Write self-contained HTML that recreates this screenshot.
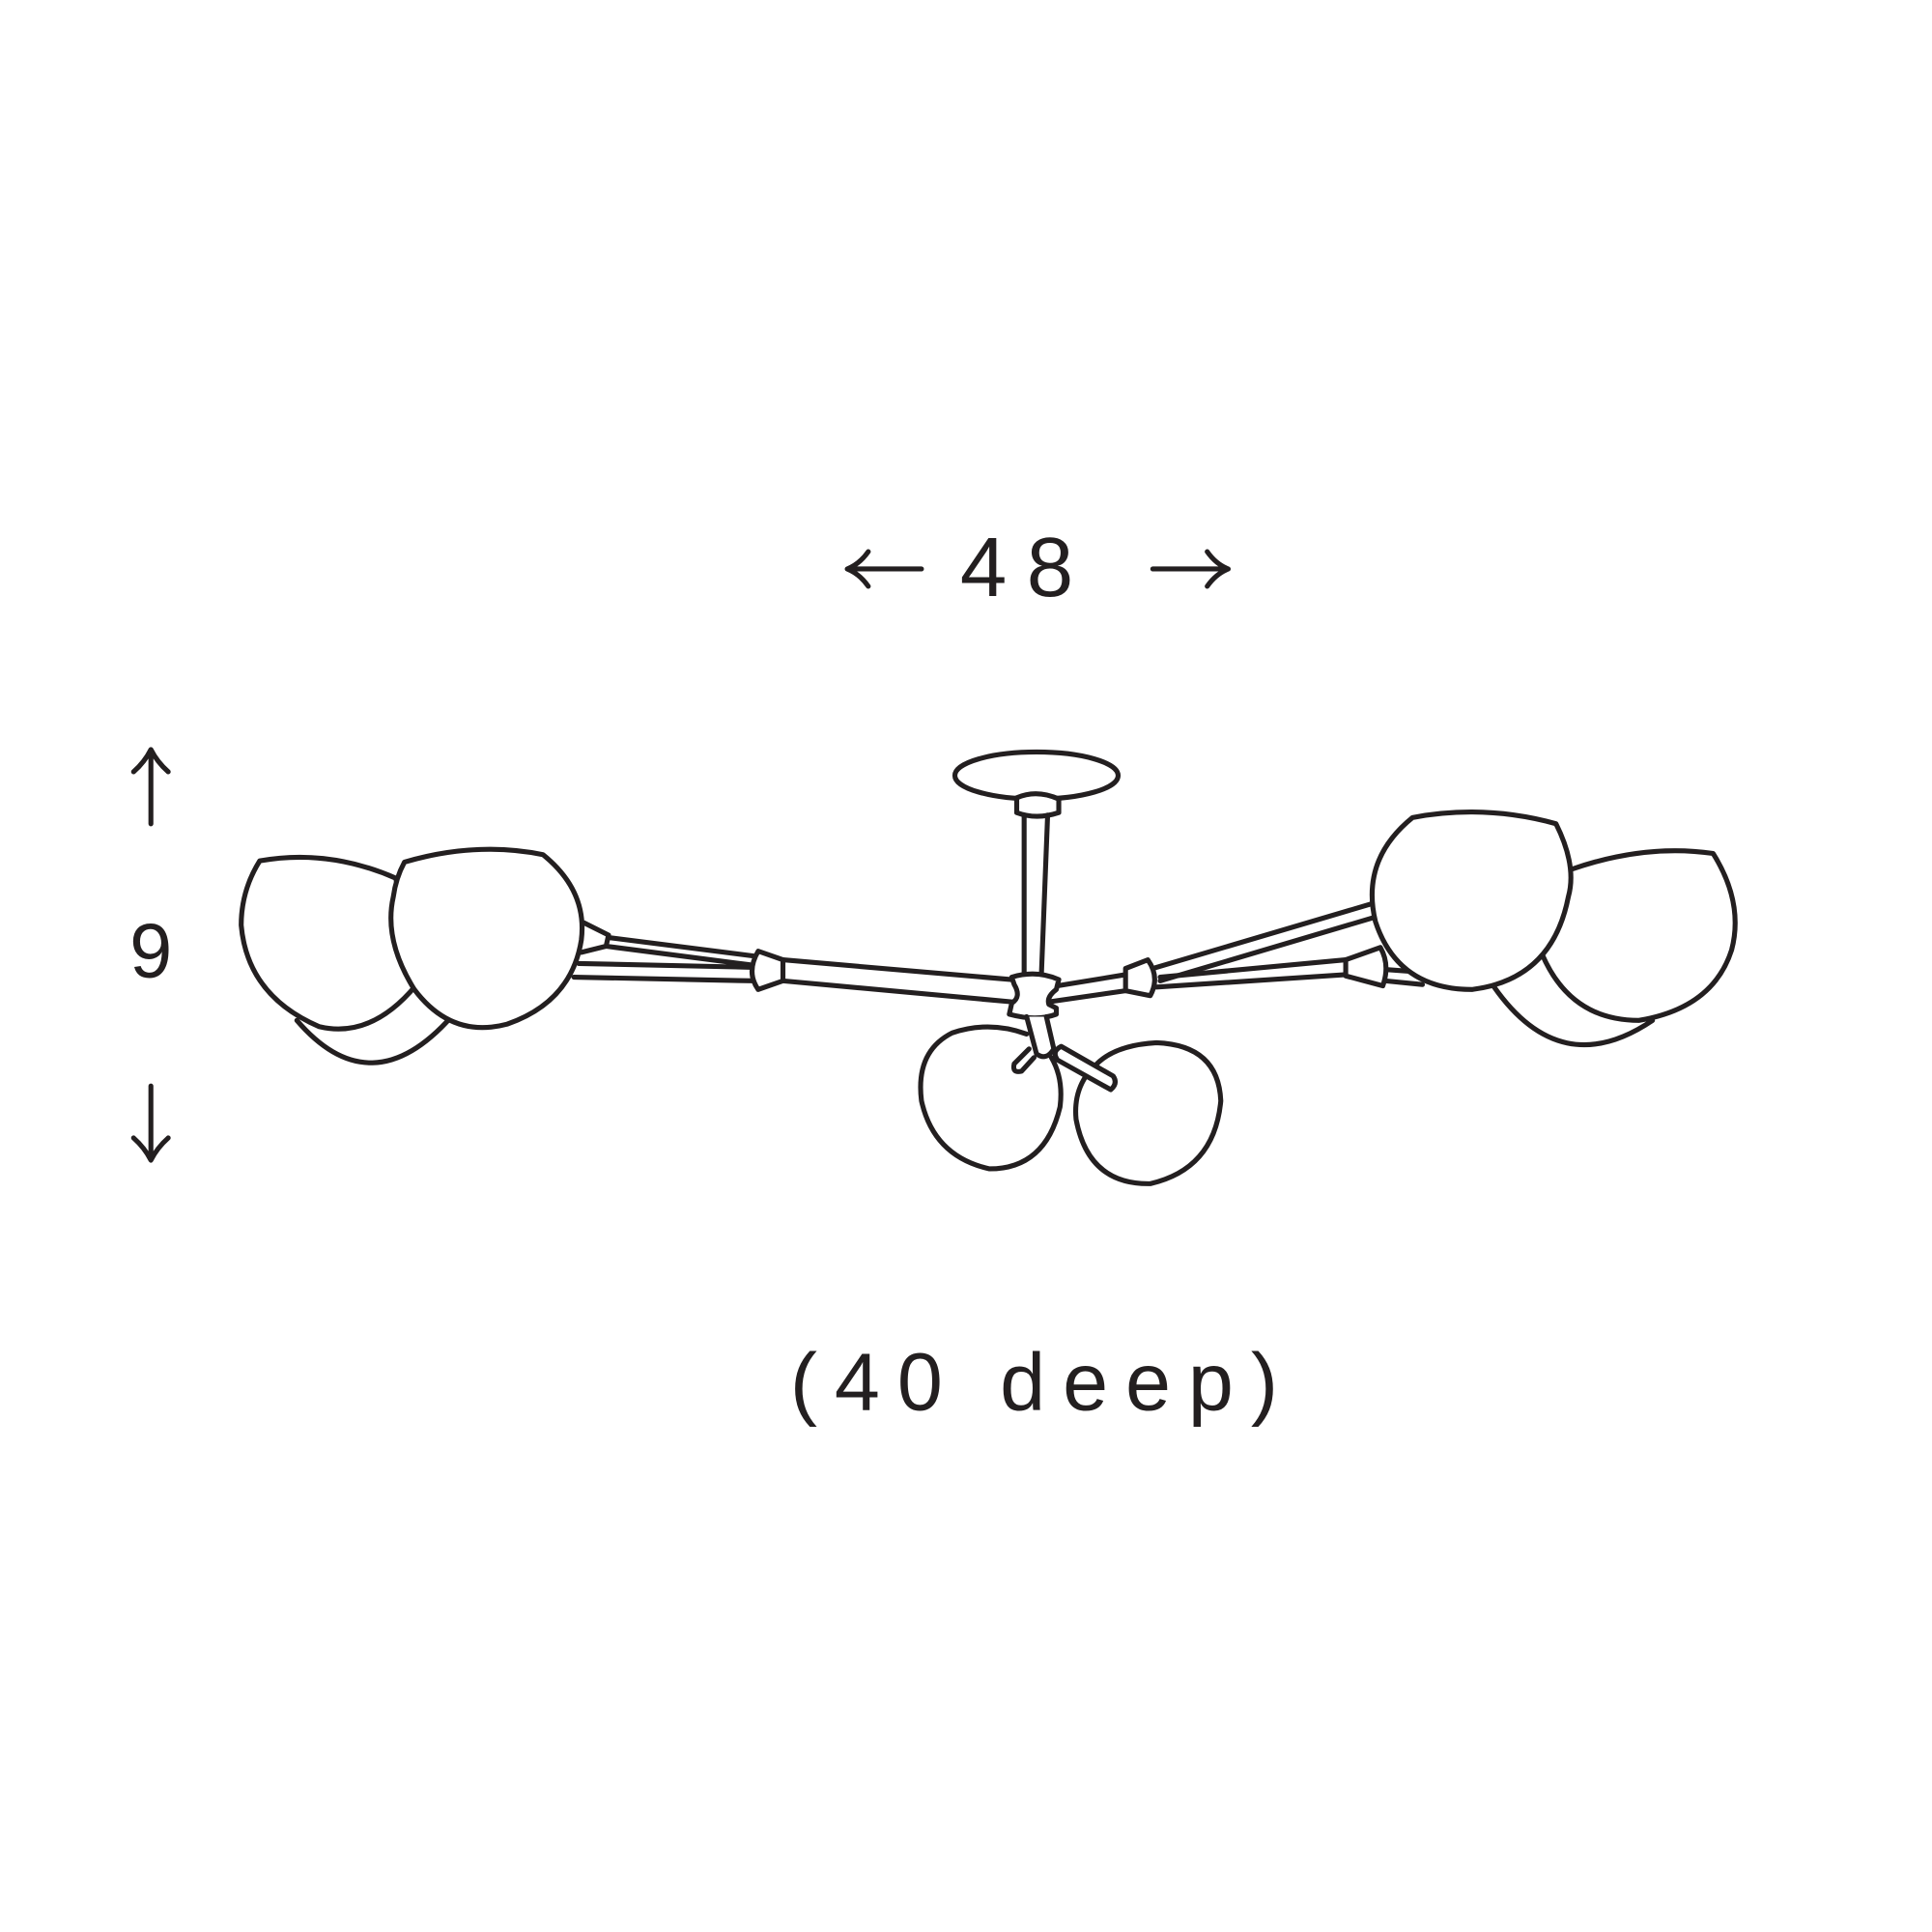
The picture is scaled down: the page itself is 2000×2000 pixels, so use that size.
<!DOCTYPE html>
<html><head><meta charset="utf-8"><style>
html,body{margin:0;padding:0;background:#fff;}
svg{display:block;}
</style></head><body>
<svg width="2000" height="2000" viewBox="0 0 1562 1562" xmlns="http://www.w3.org/2000/svg">
<g fill="none" stroke="#231f20" stroke-width="4" stroke-linejoin="round" stroke-linecap="round">
<!-- dimension arrows -->
<path d="M690,460 H745 M702,446 Q695,456 685,460 Q695,464 702,474"/>
<path d="M932,460 H990 M976,446 Q983,456 993,460 Q983,464 976,474"/>
<path d="M122,612 V666 M108,624 Q117,616 122,606 Q127,616 136,624"/>
<path d="M122,878 V934 M108,920 Q117,928 122,938 Q127,928 136,920"/>

<!-- back globes -->
<path d="M240,825 Q300,895 365,822" />
<path d="M1208,798 Q1262,875 1336,825" />

<!-- left arms -->
<path d="M472,746 L492,756 L490,765 L470,770"/>
<path d="M492,758 L610,773 M490,765 L606,780 M468,779 L606,782 M464,790 L608,793"/>
<path d="M613,769 L633,776 L633,793 L613,800 Q603,786 613,769 Z" fill="#fff"/>
<path d="M633,776 L818,792 M633,793 L818,810"/>

<!-- left globes -->
<path d="M210,696 Q265,686 320,710 L336,797 Q300,840 258,830 Q200,805 195,748 Q195,720 210,696 Z" fill="#fff"/>
<path d="M327,697 Q385,680 439,691 Q475,720 470,760 Q462,810 410,828 Q365,840 335,800 Q310,760 318,725 Q320,710 327,697 Z" fill="#fff"/>

<!-- canopy & stem -->
<ellipse cx="838" cy="627" rx="66" ry="19" fill="#fff"/>
<path d="M822,645 Q838,638 856,646 L856,657 Q838,663 822,657 Z" fill="#fff"/>
<path d="M828,659 V787 M847,659 L842,787"/>

<!-- right arms -->
<path d="M855,797 L910,788 M848,810 L910,801"/>
<path d="M910,783 L928,776 Q938,790 930,805 L910,801 Z" fill="#fff"/>
<path d="M932,783 L1108,731 M938,793 L1110,742"/>
<path d="M938,790 L1088,776 M935,798 L1088,788"/>
<path d="M1088,776 L1116,766 Q1124,780 1118,797 L1088,789 Z" fill="#fff"/>
<path d="M1122,784 L1150,786 M1120,793 L1150,796"/>

<!-- right globes -->
<path d="M1270,703 Q1330,682 1385,690 Q1410,730 1400,768 Q1385,815 1325,825 Q1270,825 1247,772 Z" fill="#fff"/>
<path d="M1142,661 Q1200,650 1258,666 Q1275,700 1268,725 Q1255,792 1190,800 Q1130,800 1112,745 Q1100,695 1142,661 Z" fill="#fff"/>

<!-- hub -->
<path d="M818,790 Q838,784 856,792 L854,800 Q846,806 848,812 L854,815 L854,820 Q838,826 816,820 L818,811 Q826,806 820,796 Z" fill="#fff"/>

<!-- bottom globes -->
<path d="M830,836 Q800,825 770,835 Q740,850 745,890 Q755,935 800,945 Q845,945 857,895 Q860,872 850,855" fill="#fff"/>
<path d="M885,862 Q900,845 935,843 Q985,845 987,890 Q982,945 930,957 Q880,958 870,905 Q868,885 878,870" fill="#fff"/>

<!-- lower fittings -->
<path d="M830,822 L838,852 Q846,858 852,848 L846,822" fill="#fff"/>
<path d="M832,848 L820,860 Q818,868 826,866 L836,855"/>
<path d="M858,846 L900,870 Q904,876 898,881 L855,857 Q850,850 858,846 Z" fill="#fff"/>
</g>
<g fill="#231f20" font-family="'Liberation Sans', sans-serif">
<text x="830" y="482" font-size="68" text-anchor="middle" letter-spacing="16">48</text>
<text x="122" y="790" font-size="62" text-anchor="middle">9</text>
<text x="843" y="1140" font-size="66" text-anchor="middle" letter-spacing="14">(40 deep)</text>
</g>
</svg>
</body></html>
